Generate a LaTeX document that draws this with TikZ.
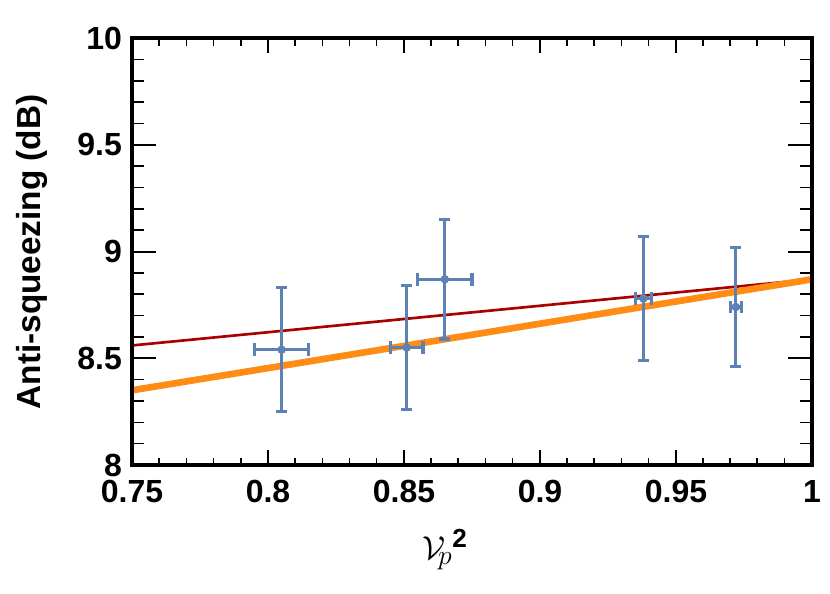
\documentclass[tikz,border=0pt]{standalone}
\usepackage{fontspec}
\setmainfont{Liberation Sans}
\definecolor{ptblue}{RGB}{94,129,181}
\definecolor{fitred}{RGB}{170,0,0}
\definecolor{fitorange}{RGB}{255,140,20}
\begin{document}
\begin{tikzpicture}[x=0.75pt,y=-0.75pt,font=\fontsize{24}{28}\bfseries]
    \useasboundingbox (0,0) rectangle (830,593);
    \begin{scope}[shift={(132,465)},x=2040pt,y=160.1pt]
        % Minor ticks
        \foreach \t in {0,...,25} {
            \draw[line width=1.2pt] (\t*0.01,0) -- ++(0,0.035);
            \draw[line width=1.2pt] (\t*0.01,2) -- ++(0,-0.035);
        }
        \foreach \t in {0,...,20} {
            \draw[line width=1.2pt] (0,\t*0.1) -- ++(0.0045,0);
            \draw[line width=1.2pt] (0.25,\t*0.1) -- ++(-0.0045,0);
        }
        % Major ticks and labels
        \foreach \v/\l in {0/0.75,0.05/0.8,0.1/0.85,0.15/0.9,0.2/0.95,0.25/1} {
            \draw[line width=1.5pt] (\v,0) -- ++(0,0.07);
            \draw[line width=1.5pt] (\v,2) -- ++(0,-0.07);
            \node[anchor=north] at (\v,-0.05) {\l};
        }
        \foreach \v/\l in {0/8,0.5/8.5,1/9,1.5/9.5,2/10} {
            \draw[line width=1.5pt] (0,\v) -- ++(0.009,0);
            \draw[line width=1.5pt] (0.25,\v) -- ++(-0.009,0);
            \node[anchor=east] at (-0.002,\v) {\l};
        }
        % Fits
        \draw[fitred, line width=2pt] (0,0.56) -- (0.25,0.87);
        \draw[fitorange, line width=5pt] (0,0.35) -- (0.25,0.87);
        % Data with error bars
        \foreach \px/\py/\ex/\ey in {0.055/0.54/0.010/0.29, 0.101/0.55/0.006/0.29,
                0.115/0.87/0.010/0.28, 0.188/0.78/0.003/0.29, 0.222/0.74/0.002/0.28} {
            \draw[ptblue, line width=2.4pt]
                (\px-\ex,\py) -- (\px+\ex,\py)
                (\px,\py-\ey) -- (\px,\py+\ey)
                (\px-\ex,\py-0.03) -- (\px-\ex,\py+0.03)
                (\px+\ex,\py-0.03) -- (\px+\ex,\py+0.03)
                (\px-0.002,\py-\ey) -- (\px+0.002,\py-\ey)
                (\px-0.002,\py+\ey) -- (\px+0.002,\py+\ey);
            \fill[ptblue] (\px,\py) circle[radius=3.2pt];
        }
        % Frame
        \draw[line width=2.5pt] (0,0) rectangle (0.25,2);
    \end{scope}
    \node[rotate=90,font=\fontsize{25}{28}\bfseries] at (32,252) {Anti-squeezing (dB)};
    \node[font=\fontsize{28}{32}] at (445,550) {$\mathcal{V}_{\!p}{}^{\mathbf{2}}$};
\end{tikzpicture}
\end{document}
